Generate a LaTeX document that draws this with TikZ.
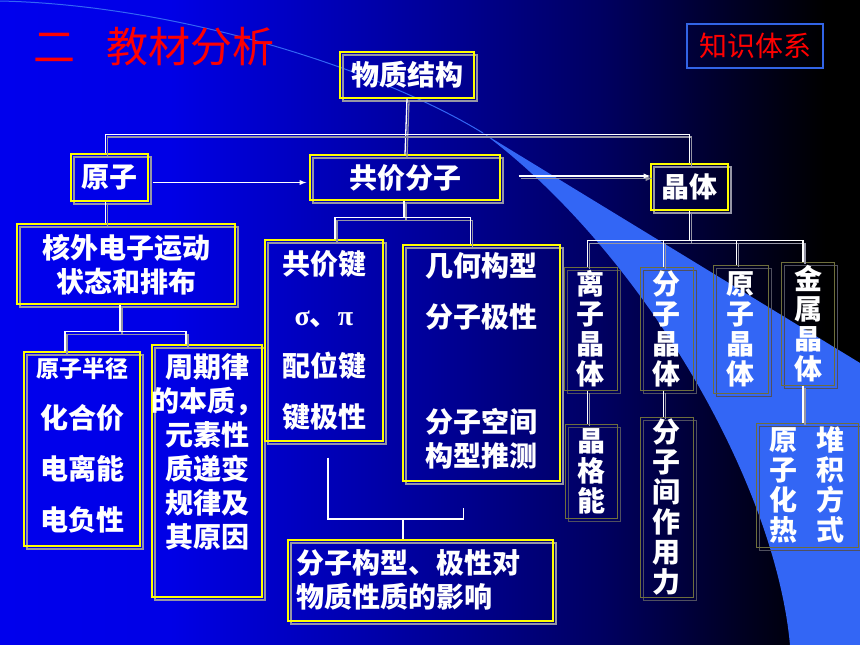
\documentclass[tikz,border=0pt]{standalone}
\usepackage{fontspec}
\setmainfont{Noto Sans CJK SC}
\newfontfamily\grkfont{Liberation Serif}
\usetikzlibrary{shadows}
\definecolor{swooshblue}{RGB}{51,102,245}
\definecolor{boxyellow}{RGB}{255,255,0}
\definecolor{boxshadow}{RGB}{150,150,165}
\definecolor{dimyellow}{RGB}{110,110,60}
\definecolor{dimshadow}{RGB}{80,80,95}
\definecolor{tagblue}{RGB}{50,100,230}
\pgfdeclarehorizontalshading{slidebg}{100bp}{rgb(0bp)=(0,0,.93); rgb(25bp)=(0,0,.93); rgb(35bp)=(0,0,.9); rgb(50bp)=(0,0,.6); rgb(60bp)=(0,0,.38); rgb(68.5bp)=(0,0,.12); rgb(73bp)=(0,0,0); rgb(100bp)=(0,0,0)}
\tikzset{
	box/.style={draw=boxyellow,line width=1.3pt,inner sep=0pt,general shadow={draw=boxshadow,line width=1.3pt,shadow xshift=3pt,shadow yshift=-3pt}},
	cbox/.style={draw=dimyellow,line width=1pt,inner sep=0pt,general shadow={draw=dimshadow,line width=1pt,shadow xshift=3pt,shadow yshift=-3pt}},
	link/.style={draw=white,line width=1.3pt,general shadow={draw=boxshadow,line width=1.3pt,shadow xshift=2pt,shadow yshift=-2.5pt}},
	plink/.style={draw=white,line width=1.3pt},
	txt/.style={inner sep=0pt,text=white,font=\fontsize{28}{34}\selectfont\bfseries,align=center},
	vtxt/.style={txt,font=\fontsize{28}{30}\selectfont\bfseries}
}

\begin{document}
\begin{tikzpicture}[x=1pt,y=-1pt]
	\useasboundingbox (0,0) rectangle (860,645);
	\shade[shading=slidebg] (0,0) rectangle (860,645);
	% swoosh
	\draw[swooshblue,line width=1pt] (0,1) .. controls (180,5) and (380,70) .. (483,133);
	\fill[swooshblue] (483,133) -- (860,363) -- (860,645) -- (790,645) .. controls (775,480) and (640,250) .. (483,133);

	\node[anchor=west,inner sep=0pt,text=red,font=\fontsize{42}{42}\selectfont] (title) at (33,47) {二\hspace{31pt}教材分析};
	\node[draw=tagblue,line width=1.2pt,minimum width=136,minimum height=44,inner sep=0pt,text=red,font=\fontsize{28}{28}\selectfont] (zstx) at (755,46) {知识体系};

	\node[box,minimum width=134,minimum height=46] (wzjg) at (407,75) {};
	\node[box,minimum width=77,minimum height=47] (yz) at (109.5,177.5) {};
	\node[box,minimum width=190,minimum height=45] (gjfz) at (405,177.5) {};
	\node[box,minimum width=77,minimum height=46] (jt) at (689.5,187) {};
	\node[box,minimum width=218,minimum height=80] (hw) at (126,264) {};
	\node[box,minimum width=116,minimum height=194] (yzbj) at (82,449) {};
	\node[box,minimum width=110,minimum height=252] (zql) at (207,471) {};
	\node[box,minimum width=118,minimum height=201] (gjj) at (324,340.5) {};
	\node[box,minimum width=157,minimum height=236] (jhgx) at (481.5,363) {};
	\node[box,minimum width=265,minimum height=81] (fzgx) at (420.5,580.5) {};

	\node[cbox,minimum width=53,minimum height=123] (lzjt) at (590.5,328.5) {};
	\node[cbox,minimum width=53,minimum height=123] (fzjt) at (666.5,328.5) {};
	\node[cbox,minimum width=55,minimum height=128] (yzjt) at (740.5,329) {};
	\node[cbox,minimum width=53,minimum height=123] (jsjt) at (808,323.5) {};
	\node[cbox,minimum width=52,minimum height=94] (jgn) at (591,471) {};
	\node[cbox,minimum width=53,minimum height=180] (fzjl) at (666.5,507) {};
	\node[cbox,minimum width=102,minimum height=124] (yzhr) at (807,485) {};

	\draw[link] (wzjg.south) -- (gjfz.north);
	\draw[link] ([xshift=-4pt]yz.north) -- ++(0,-19) -| (jt.north);
	\draw[plink,-latex] ([xshift=4pt,yshift=-5pt]yz.east) -- ([xshift=-3pt,yshift=-5pt]gjfz.west);
	\draw[link,-latex] ([xshift=18pt,yshift=1.5pt]gjfz.east) -- ([yshift=1.5pt]gjfz.east -| jt.west);

	\draw[link] ([xshift=-4pt]yz.south) -- ([xshift=-4pt]yz.south |- hw.north);
	\draw[link] ([xshift=-6pt]hw.south) -- ++(0,27) coordinate (hwbus);
	\draw[link] ([xshift=-17pt]yzbj.north) |- (hwbus) -| ([xshift=-21pt]zql.north);

	\draw[link] ([xshift=-1pt]gjfz.south) -- ++(0,17) coordinate (gjbus);
	\draw[link] ([xshift=11pt]gjj.north) |- (gjbus) -| ([xshift=-11pt]jhgx.north);

	\coordinate (fzbus) at (403,519);
	\draw[plink] ([xshift=4pt,yshift=-16pt]gjj.south) |- (fzbus) -| ([xshift=-18pt,yshift=-26pt]jhgx.south);
	\draw[plink] (fzbus) -- (fzbus |- fzgx.north);

	\draw[link] (jt.south) -- ++(0,30) coordinate (jtbus);
	\draw[link] ([xshift=-3pt]lzjt.north) |- (jtbus) -| ([xshift=-5pt]jsjt.north);
	\draw[link] ([xshift=-3pt]fzjt.north) -- ([xshift=-3pt]fzjt.north |- jtbus);
	\draw[link] ([xshift=-4pt]yzjt.north) -- ([xshift=-4pt]yzjt.north |- jtbus);
	\draw[link] ([xshift=-3pt]lzjt.south) -- ([xshift=-3pt]lzjt.south |- jgn.north);
	\draw[link] ([xshift=-3pt]fzjt.south) -- ([xshift=-3pt]fzjt.south |- fzjl.north);
	\draw[link] ([xshift=-5pt]jsjt.south) -- ([xshift=-5pt]jsjt.south |- yzhr.north);

	\node[txt] (wzjgt) at (wzjg) {物质结构};
	\node[txt] (yzt) at (yz) {原子};
	\node[txt] (gjfzt) at (gjfz) {共价分子};
	\node[txt] (jtt) at (jt) {晶体};
	\node[txt] (hwt) at (126,265) {核外电子运动\\状态和排布};
	\node[txt,font=\fontsize{28}{51}\selectfont\bfseries] (yzbjt) at (82,446) {{\fontsize{23}{51}\selectfont 原子半径}\\化合价\\电离能\\电负性};
	\node[txt] (zqlt) at (207,452) {周期律\\的本质，\\元素性\\质递变\\规律及\\其原因};
	\node[txt,font=\fontsize{28}{51}\selectfont\bfseries] (gjjt) at (324,340) {共价键\\{\grkfont σ}、{\grkfont π}\\配位键\\键极性};
	\node[txt] (jhgxt) at (481,361) {几何构型\\[17pt]分子极性\\[71pt]分子空间\\构型推测};
	\node[txt,anchor=west,align=left] (fzgxt) at (296,580) {分子构型、极性对\\物质性质的影响};
	\node[vtxt] (lzjtt) at (lzjt) {离\\子\\晶\\体};
	\node[vtxt] (fzjtt) at (fzjt) {分\\子\\晶\\体};
	\node[vtxt] (yzjtt) at (yzjt) {原\\子\\晶\\体};
	\node[vtxt] (jsjtt) at (jsjt) {金\\属\\晶\\体};
	\node[vtxt] (jgnt) at (jgn) {晶\\格\\能};
	\node[vtxt] (fzjlt) at (fzjl) {分\\子\\间\\作\\用\\力};
	\node[vtxt] (yzhrt) at (yzhr) {原\hspace{20pt}堆\\子\hspace{20pt}积\\化\hspace{20pt}方\\热\hspace{20pt}式};
\end{tikzpicture}
\end{document}
